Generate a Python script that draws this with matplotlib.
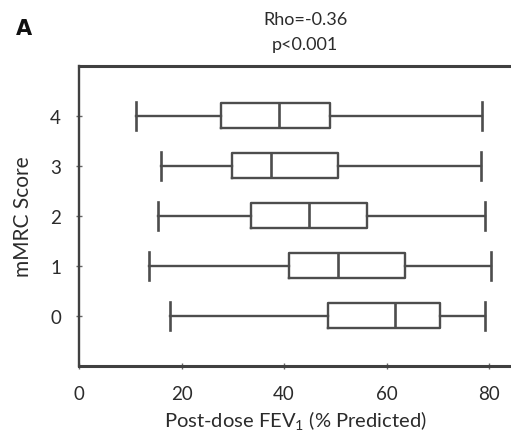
import matplotlib
matplotlib.use("Agg")
import matplotlib.pyplot as plt

plt.rcParams['font.family'] = ['Lato', 'DejaVu Sans']

# mMRC dyspnoea score groups and post-dose FEV1 (% predicted) summaries
scores = [0, 1, 2, 3, 4]
whisker_low = [17.8, 13.7, 15.5, 16.0, 11.1]
q1 = [48.5, 41.0, 33.6, 29.9, 27.7]
median = [61.7, 50.5, 44.9, 37.4, 39.0]
q3 = [70.4, 63.6, 56.1, 50.6, 49.0]
whisker_high = [79.2, 80.4, 79.2, 78.4, 78.6]
x_ticks = [0, 20, 40, 60, 80]

W, H = 511, 435
fig = plt.figure(figsize=(W / 100, H / 100), dpi=100)
ax = fig.add_axes([79 / W, (H - 366.7) / H, (W - 79) / W, 300 / H])

stats = [
    dict(med=m, q1=a, q3=b, whislo=lo, whishi=hi, fliers=[], label=str(s))
    for s, lo, a, m, b, hi in zip(scores, whisker_low, q1, median, q3, whisker_high)
]

line_col = '#4d4d4d'
ax.bxp(stats, positions=scores, orientation='horizontal', widths=0.5,
       capwidths=0.56, showfliers=False, patch_artist=False,
       boxprops=dict(color=line_col, linewidth=1.7),
       whiskerprops=dict(color=line_col, linewidth=1.7),
       capprops=dict(color=line_col, linewidth=1.9),
       medianprops=dict(color=line_col, linewidth=1.9))

ax.set_xlim(0, (W - 79) / 5.125)
ax.set_ylim(-1, 5)
ax.set_xticks(x_ticks)
ax.set_yticks(scores)
ax.set_yticklabels([str(s) for s in scores])

spine_col = '#404040'
ax.spines['right'].set_visible(False)
ax.spines['top'].set_color(spine_col)
ax.spines['top'].set_linewidth(2.2)
ax.spines['bottom'].set_color(spine_col)
ax.spines['bottom'].set_linewidth(2.2)
ax.spines['left'].set_color(spine_col)
ax.spines['left'].set_linewidth(1.7)

text_col = '#2b2b2b'
ax.tick_params(axis='both', direction='inout', length=4, width=1.0,
               color='#666666', labelsize=13.5, labelcolor=text_col)
ax.tick_params(axis='x', pad=12)
ax.tick_params(axis='y', pad=11)

ax.set_xlabel('Post-dose FEV$_\\mathregular{1}$ (% Predicted)', fontsize=14.5,
              color=text_col, labelpad=5)
ax.set_ylabel('mMRC Score', fontsize=15, color=text_col, labelpad=12)

fig.text(305 / W, 1 - 20 / H, 'Rho=-0.36', ha='center', va='center',
         fontsize=13, color=text_col)
fig.text(305 / W, 1 - 45 / H, 'p<0.001', ha='center', va='center',
         fontsize=13, color=text_col)
fig.text(24 / W, 1 - 29 / H, 'A', ha='center', va='center',
         fontsize=15, fontweight='bold', family='DejaVu Sans', color='#111111')

fig.savefig('out.png', dpi=100)
